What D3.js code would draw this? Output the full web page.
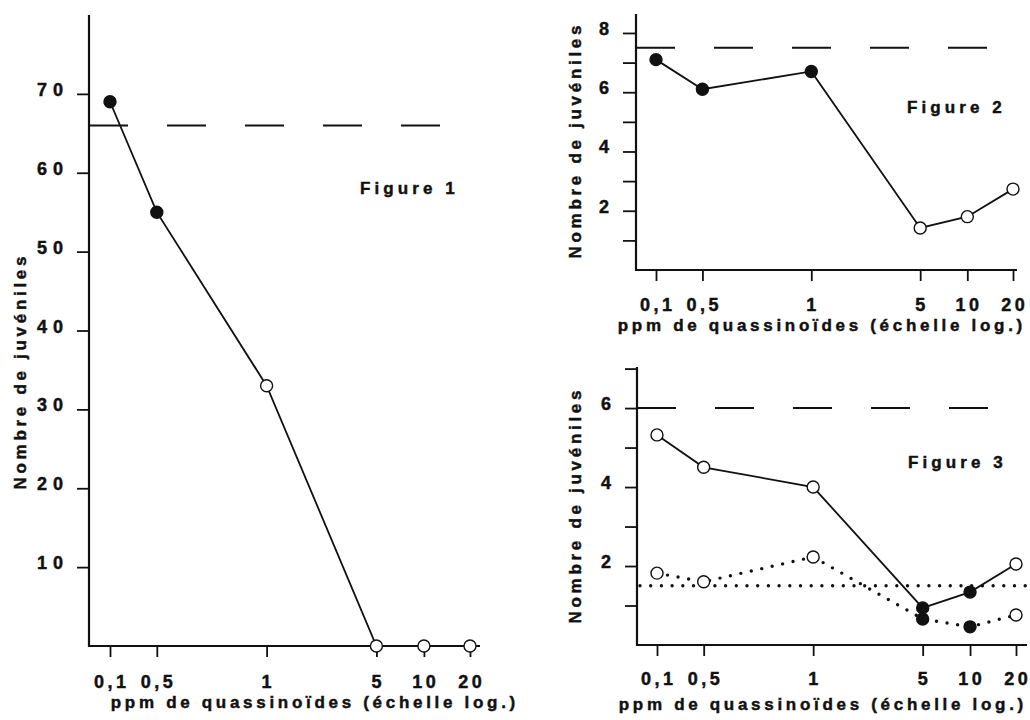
<!DOCTYPE html>
<html>
<head>
<meta charset="utf-8">
<script src="https://cdn.jsdelivr.net/npm/d3@7"></script>
<style>
  body { margin: 0; background: #fff; }
  text { font-family: "Liberation Sans", Arial, sans-serif; font-weight: bold; fill: #111; stroke: #111; stroke-width: 0.45px; }
</style>
</head>
<body>
<div id="chart"></div>
<script>
// doses (ppm, log scale on the original figures)
var doses = ["0,1", "0,5", "1", "5", "10", "20"];

// Figure 1
var fig1Values = [69, 55, 33, 0, 0, 0];
var fig1Filled = [true, true, false, false, false, false];
var fig1Control = 66;
var fig1YTicks = [10, 20, 30, 40, 50, 60, 70];

// Figure 2
var fig2Values = [7.1, 6.1, 6.7, 1.42, 1.8, 2.73];
var fig2Filled = [true, true, true, false, false, false];
var fig2Control = 7.5;
var fig2YTicks = [1, 2, 3, 4, 5, 6, 7, 8];
var fig2YLabels = [2, 4, 6, 8];

// Figure 3
var fig3SolidValues = [5.32, 4.5, 4.0, 0.94, 1.34, 2.05];
var fig3SolidFilled = [false, false, false, true, true, false];
var fig3DottedValues = [1.82, 1.6, 2.23, 0.66, 0.46, 0.76];
var fig3DottedFilled = [false, false, false, true, true, false];
var fig3Control = 6;
var fig3DottedControl = 1.5;
var fig3YTicks = [1, 2, 3, 4, 5, 6, 7];
var fig3YLabels = [2, 4, 6];

var xTitle = "ppm de quassinoïdes (échelle log.)";
var yTitle = "Nombre de juvéniles";

// relative spacing of the dose ticks along the x axis (as printed)
var doseSpacing = [0, 0.13, 0.435, 0.74, 0.872, 1];

var svg = d3.select("#chart").append("svg")
    .attr("width", 1030)
    .attr("height", 720);

var LS = 3.7;   // letter spacing of the titles

function spaced(sel, size, ls, anchor) {
  var shift = anchor == "middle" ? ls / 2 : (anchor == "end" ? ls : 0);
  sel.attr("font-size", size + "px")
     .attr("letter-spacing", ls)
     .attr("text-anchor", anchor)
     .attr("dx", shift);
  return sel;
}

function drawPanel(p) {
  var g = svg.append("g");

  var x = d3.scaleLinear()
      .domain(d3.range(doses.length))
      .range(doseSpacing.map(function(f) { return p.x0 + f * (p.x1 - p.x0); }));
  var y = d3.scaleLinear()
      .domain([0, p.yMax])
      .range([p.axisY, p.top]);

  // y axis
  var yAxis = d3.axisLeft(y)
      .tickValues(p.yTicks)
      .tickSize(p.yTick)
      .tickFormat("");
  var ya = g.append("g")
      .attr("transform", "translate(" + p.axisX + ",0)")
      .call(yAxis);
  ya.select(".domain").remove();
  ya.selectAll("line").attr("stroke", "#111").attr("stroke-width", 1.8);
  g.append("line")
      .attr("x1", p.axisX).attr("x2", p.axisX)
      .attr("y1", p.top).attr("y2", p.axisY + 1)
      .attr("stroke", "#111").attr("stroke-width", 2.2);

  g.selectAll(".ylab")
    .data(p.yLabels)
    .enter().append("text")
      .attr("x", p.axisX - p.yTick - 14)
      .attr("y", function(d) { return y(d) + 2; })
      .text(function(d) { return d; })
      .call(spaced, 18, p.yLs, "end");

  // x axis
  var xAxis = d3.axisBottom(x)
      .tickValues(d3.range(doses.length))
      .tickSize(11)
      .tickFormat("");
  var xa = g.append("g")
      .attr("transform", "translate(0," + p.axisY + ")")
      .call(xAxis);
  xa.select(".domain").remove();
  xa.selectAll("line").attr("stroke", "#111").attr("stroke-width", 1.8);
  g.append("line")
      .attr("x1", p.axisX).attr("x2", p.xEnd)
      .attr("y1", p.axisY).attr("y2", p.axisY)
      .attr("stroke", "#111").attr("stroke-width", 2.2);

  g.selectAll(".xlab")
    .data(doses)
    .enter().append("text")
      .attr("x", function(d, i) { return x(i); })
      .attr("y", p.axisY + p.tickLabDy)
      .text(function(d) { return d; })
      .call(spaced, 18, 3.5, "middle");

  // axis titles
  g.append("text")
      .attr("x", p.xTitleX)
      .attr("y", p.axisY + p.xTitleDy)
      .text(xTitle)
      .call(spaced, 17, LS, "middle");
  g.append("text")
      .attr("transform", "translate(" + p.yTitleX + "," + p.yTitleY + ") rotate(-90)")
      .text(yTitle)
      .call(spaced, 17, LS, "middle");

  // figure name
  g.append("text")
      .attr("x", p.nameX)
      .attr("y", p.nameY)
      .text(p.name)
      .call(spaced, 17, 4.1, "start");

  // control level (dashed)
  g.append("line")
      .attr("x1", p.axisX).attr("x2", p.axisX + 351)
      .attr("y1", y(p.control)).attr("y2", y(p.control))
      .attr("stroke", "#111").attr("stroke-width", 2)
      .attr("stroke-dasharray", "39,39");

  if (p.dottedControl !== undefined) {
    g.append("line")
        .attr("x1", p.axisX + 3).attr("x2", p.xEnd)
        .attr("y1", y(p.dottedControl)).attr("y2", y(p.dottedControl))
        .attr("stroke", "#111").attr("stroke-width", 3.4)
        .attr("stroke-linecap", "round")
        .attr("stroke-dasharray", "0,10.7");
  }

  var line = d3.line()
      .x(function(d, i) { return x(i); })
      .y(function(d) { return y(d); });

  p.series.forEach(function(s) {
    g.append("path")
        .datum(s.values)
        .attr("d", line)
        .attr("fill", "none")
        .attr("stroke", "#111")
        .attr("stroke-width", s.dotted ? 3.4 : 1.8)
        .attr("stroke-linecap", s.dotted ? "round" : "butt")
        .attr("stroke-dasharray", s.dotted ? "0,10.7" : null);

    g.selectAll(null)
      .data(s.values)
      .enter().append("circle")
        .attr("cx", function(d, i) { return x(i); })
        .attr("cy", function(d) { return y(d); })
        .attr("r", 6)
        .attr("fill", function(d, i) { return s.filled[i] ? "#111" : "#fff"; })
        .attr("stroke", "#111")
        .attr("stroke-width", 1.4);
  });
}

drawPanel({
  name: "Figure 1", nameX: 360, nameY: 194,
  axisX: 89, axisY: 646, top: 15, yMax: 80, xEnd: 480,
  x0: 110, x1: 470, yTick: 12, yTicks: fig1YTicks, yLabels: fig1YTicks, yLs: 6,
  tickLabDy: 42, xTitleDy: 62,
  xTitleX: 313, yTitleX: 26, yTitleY: 373,
  control: fig1Control,
  series: [{ values: fig1Values, filled: fig1Filled }]
});

drawPanel({
  name: "Figure 2", nameX: 907, nameY: 113,
  axisX: 636, axisY: 270, top: 14, yMax: 8.64, xEnd: 1017,
  x0: 656, x1: 1013, yTick: 13, yTicks: fig2YTicks, yLabels: fig2YLabels, yLs: 4,
  tickLabDy: 41, xTitleDy: 61,
  xTitleX: 820, yTitleX: 581, yTitleY: 142,
  control: fig2Control,
  series: [{ values: fig2Values, filled: fig2Filled }]
});

drawPanel({
  name: "Figure 3", nameX: 908, nameY: 468,
  axisX: 637, axisY: 645, top: 367, yMax: 7.04, xEnd: 1027,
  x0: 657, x1: 1016, yTick: 12, yTicks: fig3YTicks, yLabels: fig3YLabels, yLs: 4,
  tickLabDy: 40, xTitleDy: 65,
  xTitleX: 821, yTitleX: 581, yTitleY: 507,
  control: fig3Control, dottedControl: fig3DottedControl,
  series: [
    { values: fig3SolidValues, filled: fig3SolidFilled },
    { values: fig3DottedValues, filled: fig3DottedFilled, dotted: true }
  ]
});
</script>
</body>
</html>
